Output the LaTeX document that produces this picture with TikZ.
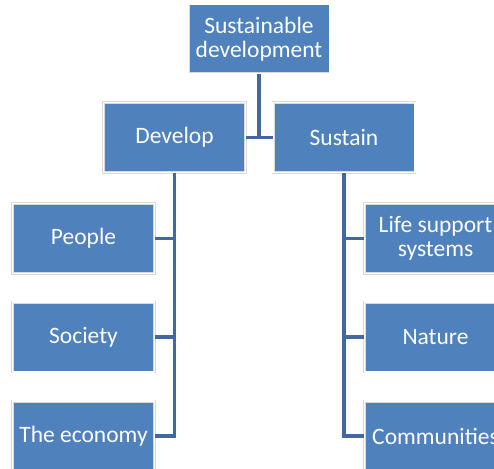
\documentclass[tikz,border=0pt]{standalone}
\usepackage{fontspec}
\setmainfont{Carlito}
\usetikzlibrary{positioning}
\definecolor{boxblue}{RGB}{79,129,189}
\definecolor{lineblue}{RGB}{65,105,160}

\begin{document}
\begin{tikzpicture}[
	x=1pt, y=-1pt,
	box/.style={rectangle, fill=boxblue, draw=black!15, double=white, double distance=1.5pt, line width=0.6pt, inner sep=0pt, minimum width=141.7pt, minimum height=69.7pt, text=white, align=center, font=\fontsize{23.5}{24}\selectfont},
	link/.style={draw=lineblue, line width=3.3pt}
]
\useasboundingbox (0,0) rectangle (494,468);
\clip (0,0) rectangle (494,468);

\node[box] (goal) at (259,39) {Sustainable\\development};
\node[box] (develop) at (174.5,137.5) {Develop};
\node[box] (sustain) at (344,137.5) {Sustain};

\node[box] (people) at (83.5,238.5) {People};
\node[box] (society) at (83.5,337) {Society};
\node[box] (economy) at (83.5,436) {The economy};

\node[box] (life) at (435.5,238.5) {Life support\\systems};
\node[box] (nature) at (435.5,337) {Nature};
\node[box] (communities) at (435.5,436) {Communities};

% top level
\draw[link] (develop.east) -- (sustain.west);
\draw[link] (goal.south) -- (goal.south |- develop.east);

% develop branch
\draw[link] (develop.south) |- (economy.east);
\draw[link] (people.east) -- (people.east -| develop.south);
\draw[link] (society.east) -- (society.east -| develop.south);

% sustain branch
\draw[link] (sustain.south) |- (communities.west);
\draw[link] (life.west) -- (life.west -| sustain.south);
\draw[link] (nature.west) -- (nature.west -| sustain.south);
\end{tikzpicture}
\end{document}
